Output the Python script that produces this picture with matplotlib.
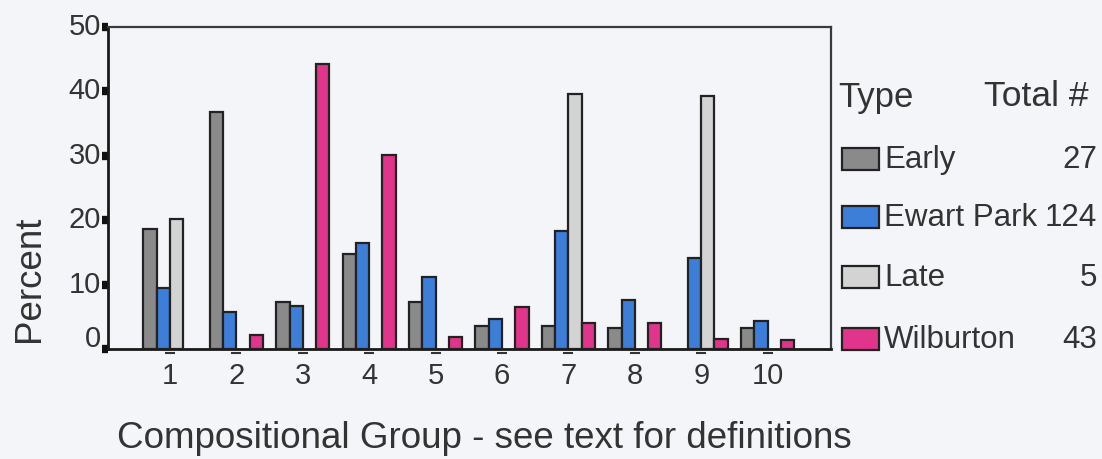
import numpy as np
import matplotlib
matplotlib.use("Agg")
import matplotlib.pyplot as plt
from matplotlib.patches import Rectangle
from matplotlib.transforms import ScaledTranslation

# ---- data ----
groups = ["1", "2", "3", "4", "5", "6", "7", "8", "9", "10"]
types = ["Early", "Ewart Park", "Late", "Wilburton"]
totals = ["27", "124", "5", "43"]
early = [18.7, 36.8, 7.3, 14.7, 7.3, 3.6, 3.5, 3.3, 0.0, 3.2]
ewart_park = [9.5, 5.7, 6.6, 16.4, 11.2, 4.7, 18.3, 7.6, 14.2, 4.3]
late = [20.2, 0.0, 0.0, 0.0, 0.0, 0.0, 39.6, 0.0, 39.3, 0.0]
wilburton = [0.0, 2.2, 44.2, 30.1, 1.9, 6.5, 4.1, 4.0, 1.5, 1.4]
y_ticks = [0, 10, 20, 30, 40, 50]

series = [early, ewart_park, late, wilburton]
colors = ["#8a8a8a", "#3d7ed8", "#d3d3d3", "#e0358a"]

plt.rcParams['font.family'] = ['Liberation Sans', 'DejaVu Sans']
TXT = "#333333"
BG = "#f4f5f8"

W, H = 1102, 460
fig = plt.figure(figsize=(W / 100, H / 100), dpi=100, facecolor=BG)

def fx(px):
    return px / W

def fy(py):
    return 1 - py / H

ax_l, ax_r, ax_t, ax_b = 108, 831, 28, 350
ax = fig.add_axes([fx(ax_l), fy(ax_b), fx(ax_r) - fx(ax_l), fy(ax_t) - fy(ax_b)])
ax.set_facecolor(BG)

x = np.arange(1, len(groups) + 1)
width = 0.2
offsets = [-0.3, -0.1, 0.1, 0.3]
for vals, off, col in zip(series, offsets, colors):
    v = np.array(vals, dtype=float)
    h = np.where(v > 0, v, np.nan)
    ax.bar(x + off, h, width=width, color=col, edgecolor="#222222", linewidth=1.6, zorder=3)

ax.set_xlim(0.066, 10.955)
ax.set_ylim(0, 50)

# spines
for s in ["left", "bottom"]:
    ax.spines[s].set_linewidth(2.0)
    ax.spines[s].set_color("#1a1a1a")
for s in ["top", "right"]:
    ax.spines[s].set_linewidth(1.6)
    ax.spines[s].set_color("#3a3a3a")

# y ticks
ax.set_yticks(y_ticks)
ax.set_yticklabels([str(t) for t in y_ticks])
ax.tick_params(axis="y", direction="out", length=4.5, width=6, color="#111111",
               labelsize=21, labelcolor=TXT, pad=0.5)
for lab, t in zip(ax.get_yticklabels(), y_ticks):
    dy = 14 if t == 0 else 4
    lab.set_transform(lab.get_transform() + ScaledTranslation(0, dy / 100, fig.dpi_scale_trans))

# x ticks
ax.set_xticks(x)
ax.set_xticklabels(groups)
ax.tick_params(axis="x", length=0, labelsize=21, labelcolor=TXT, pad=9)
ax.plot(x, np.full(len(x), -0.012), linestyle="none", marker="_", markersize=7.5,
        markeredgewidth=1.5, color=TXT, transform=ax.get_xaxis_transform(), clip_on=False)

# axis labels
fig.text(fx(484), fy(448), "Compositional Group - see text for definitions",
         ha="center", va="baseline", fontsize=26.5, color=TXT)
fig.text(fx(30), fy(279), "Percent", rotation=90, ha="center", va="center",
         fontsize=26.5, color=TXT)

# legend (manual)
fig.text(fx(838), fy(97), "Type", ha="left", va="center", fontsize=25, color=TXT)
fig.text(fx(1088), fy(97), "Total #", ha="right", va="center", fontsize=25.5, color=TXT)
rows_y = [160, 218, 278, 340]
for name, tot, col, ry in zip(types, totals, colors, rows_y):
    fig.add_artist(Rectangle((fx(842), fy(ry + 11)), fx(879) - fx(842), (22 / H),
                             transform=fig.transFigure, facecolor=col,
                             edgecolor="#222222", linewidth=1.6))
    fig.text(fx(884), fy(ry), name, ha="left", va="center", fontsize=22.5, color=TXT)
    fig.text(fx(1097), fy(ry), tot, ha="right", va="center", fontsize=22.5, color=TXT)

fig.savefig("out.png", dpi=100, facecolor=BG)
